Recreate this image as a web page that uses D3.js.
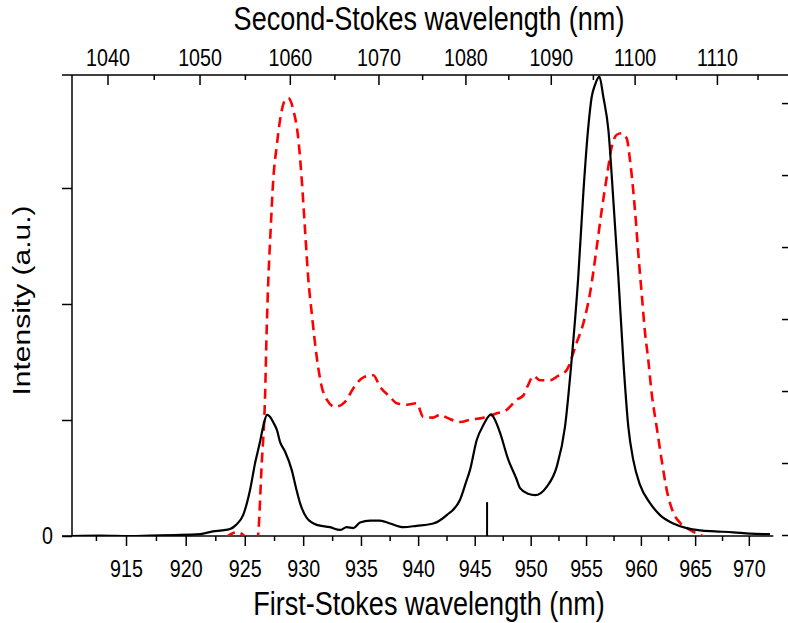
<!DOCTYPE html>
<html>
<head>
  <meta charset="utf-8" />
  <title>Raman spectra</title>
  <script src="https://cdnjs.cloudflare.com/ajax/libs/d3/7.8.5/d3.min.js"></script>
  <style>
    body { margin: 0; background: #fff; }
    svg text { font-family: "Liberation Sans", Arial, sans-serif; fill: #000; }
    .axis .tick line, .frame { stroke: #000; stroke-width: 1.5px; }
    .axis .tick text { font-size: 24px; }
    .title { font-size: 33px; }
    .ytitle { font-size: 30px; }
  </style>
</head>
<body>
  <div id="chart"></div>
  <script>
    // diamond Raman shift (cm^-1) between first and second Stokes
    var ramanShift = 1332;
    // the lettering of the figure is horizontally condensed
    var squeeze = 0.82;

    var firstStokesTicks = [915, 920, 925, 930, 935, 940, 945, 950, 955, 960, 965, 970];
    var firstStokesMinor = [912.5, 917.5, 922.5, 927.5, 932.5, 937.5, 942.5, 947.5, 952.5, 957.5, 962.5, 967.5];
    var secondStokesTicks = [1040, 1050, 1060, 1070, 1080, 1090, 1100, 1110];
    var secondStokesMinor = [1045, 1055, 1065, 1075, 1085, 1095, 1105, 1115];
    var leftTicks = [0, 0.25, 0.5, 0.75];
    var rightTicks = [0, 1, 2, 3, 4, 5, 6];

    // first-Stokes spectrum (black, left axis)
    var blackWl = [910.52, 912.84, 915.34, 917.00, 919.11, 921.22, 922.31, 923.07, 923.75, 924.26,
      924.86, 925.45, 925.88, 926.30, 926.60, 926.90, 927.15, 927.43, 927.75, 928.01,
      928.44, 929.02, 929.39, 929.73, 930.31, 931.17, 932.32, 933.18, 933.76, 934.34,
      934.92, 935.79, 936.66, 937.53, 938.70, 939.87, 941.33, 942.52, 943.70, 944.23,
      944.58, 945.18, 945.77, 946.45, 946.81, 947.26, 948.00, 948.69, 949.05, 949.76,
      950.39, 951.44, 952.34, 953.09, 953.69, 954.29, 954.75, 955.20, 955.51, 955.81,
      956.21, 956.57, 957.03, 957.48, 957.94, 958.39, 958.85, 959.30, 959.92, 960.84,
      961.76, 962.98, 964.22, 965.46, 966.86, 968.54, 970.12, 971.98];
    var blackInt = [0, 0.001, 0, 0.001, 0.002, 0.004, 0.010, 0.012, 0.015, 0.024,
      0.045, 0.099, 0.157, 0.203, 0.239, 0.261, 0.257, 0.245, 0.228, 0.203,
      0.182, 0.142, 0.103, 0.071, 0.039, 0.024, 0.019, 0.013, 0.019, 0.017,
      0.029, 0.033, 0.033, 0.027, 0.019, 0.022, 0.027, 0.045, 0.078, 0.116,
      0.142, 0.207, 0.239, 0.262, 0.250, 0.222, 0.164, 0.125, 0.103, 0.091,
      0.088, 0.106, 0.149, 0.235, 0.379, 0.558, 0.739, 0.881, 0.946, 0.972,
      0.990, 0.946, 0.875, 0.724, 0.558, 0.379, 0.235, 0.164, 0.110, 0.071,
      0.045, 0.027, 0.017, 0.012, 0.010, 0.008, 0.005, 0.004];

    // second-Stokes spectrum (red dashed, right axis), plotted at first-Stokes position
    var redWl = [923.41, 924.35, 925.28, 926.07, 926.45, 926.73, 926.87, 927.01, 927.21, 927.43,
      927.72, 928.01, 928.44, 928.72, 929.16, 929.59, 929.88, 930.16, 930.45, 930.74,
      931.17, 931.60, 932.04, 932.75, 933.62, 934.34, 935.21, 936.08, 936.66, 937.53,
      938.12, 938.99, 939.87, 940.45, 941.30, 941.93, 942.52, 943.70, 944.58, 945.77,
      946.96, 947.86, 948.75, 949.35, 949.76, 950.24, 950.84, 951.74, 952.46, 953.24,
      954.14, 954.75, 955.36, 955.97, 956.42, 956.88, 957.33, 957.79, 958.24, 958.70,
      959.00, 959.46, 959.76, 960.07, 960.38, 960.68, 960.99, 961.45, 961.91, 962.37,
      962.98, 963.61, 964.53, 965.46, 965.93];
    var redInt = [-0.03, 0.04, -0.04, -0.07, 1.00, 1.92, 2.85, 3.54, 4.24, 4.93,
      5.39, 5.76, 6.04, 6.07, 5.90, 5.49, 4.93, 4.24, 3.54, 3.08,
      2.47, 2.06, 1.88, 1.78, 1.85, 2.04, 2.19, 2.22, 2.06, 1.92,
      1.83, 1.81, 1.83, 1.64, 1.63, 1.67, 1.63, 1.57, 1.60, 1.63,
      1.69, 1.74, 1.88, 1.94, 2.08, 2.21, 2.15, 2.15, 2.21, 2.29,
      2.67, 2.94, 3.36, 4.00, 4.51, 4.97, 5.39, 5.56, 5.58, 5.51,
      5.21, 4.51, 3.92, 3.36, 2.81, 2.43, 1.97, 1.50, 1.04, 0.63,
      0.31, 0.17, 0.07, 0.00, -0.03];

    var markerWl = 946.1, markerHeight = 0.073;
    var firstStokesEnd = 972.3;

    var margin = { top: 75, right: -2, bottom: 87, left: 72 };
    var W = 788, H = 623;
    var w = W - margin.left - margin.right,
      h = H - margin.top - margin.bottom;

    var svg = d3.select('#chart').append('svg')
      .attr('width', W)
      .attr('height', H);

    // x is linear in wavenumber (cm^-1)
    var nu = d3.scaleLinear().domain([10982.7, 10268.3]).range([0, w]);
    var xFirst = wl => nu(1e7 / wl);
    var yLeft = d3.scaleLinear().domain([0, 0.9935]).range([h, 0]);
    var yRight = d3.scaleLinear().domain([0, 6.39]).range([h - 1, 0]);

    var g = svg.append('g').attr('transform', `translate(${margin.left},${margin.top})`);

    svg.append('defs').append('clipPath').attr('id', 'plotClip')
      .append('rect').attr('width', w).attr('height', h);

    function condense(sel) {
      sel.selectAll('.tick text').each(function () {
        var t = d3.select(this);
        var x = +t.attr('x') || 0;
        t.attr('x', x / squeeze).attr('transform', `scale(${squeeze},1)`);
      });
    }

    // frame lines
    g.append('line').attr('class', 'frame')
      .attr('x1', 0).attr('x2', 0).attr('y1', 0).attr('y2', h);
    g.append('line').attr('class', 'frame')
      .attr('x1', -10).attr('x2', xFirst(firstStokesEnd)).attr('y1', h).attr('y2', h);
    g.append('line').attr('class', 'frame')
      .attr('x1', -10).attr('x2', w).attr('y1', 0).attr('y2', 0);

    // bottom axis (first Stokes)
    g.append('g').attr('class', 'axis').attr('transform', `translate(0,${h})`)
      .call(d3.axisBottom(nu).tickValues(firstStokesTicks.map(d => 1e7 / d))
        .tickFormat(d => Math.round(1e7 / d)).tickSize(10).tickPadding(14))
      .call(a => a.select('.domain').remove())
      .call(condense);
    g.append('g').attr('class', 'axis').attr('transform', `translate(0,${h})`)
      .call(d3.axisBottom(nu).tickValues(firstStokesMinor.map(d => 1e7 / d))
        .tickFormat('').tickSize(5))
      .call(a => a.select('.domain').remove());

    // top axis (second Stokes), ticks inside
    var topNu = d => 1e7 / d + ramanShift;
    g.append('g').attr('class', 'axis')
      .call(d3.axisTop(nu).tickValues(secondStokesTicks.map(topNu))
        .tickFormat(d => Math.round(1e7 / (d - ramanShift))).tickSizeInner(-10).tickSizeOuter(0).tickPadding(9))
      .call(a => a.select('.domain').remove())
      .call(condense);
    g.append('g').attr('class', 'axis')
      .call(d3.axisTop(nu).tickValues(secondStokesMinor.map(topNu))
        .tickFormat('').tickSizeInner(-5).tickSizeOuter(0))
      .call(a => a.select('.domain').remove());

    // left axis
    g.append('g').attr('class', 'axis')
      .call(d3.axisLeft(yLeft).tickValues(leftTicks)
        .tickFormat(d => d === 0 ? '0' : '').tickSize(10).tickPadding(9))
      .call(a => a.select('.domain').remove())
      .call(condense);

    // right axis, ticks pointing in
    g.append('g').attr('class', 'axis').attr('transform', `translate(${w},0)`)
      .call(d3.axisRight(yRight).tickValues(rightTicks)
        .tickFormat('').tickSizeInner(-8).tickSizeOuter(0))
      .call(a => a.select('.domain').remove());

    var plot = g.append('g').attr('clip-path', 'url(#plotClip)');

    var redLine = d3.line()
      .x((d, i) => xFirst(redWl[i]))
      .y(d => yRight(d))
      .curve(d3.curveMonotoneX);
    plot.append('path').datum(redInt)
      .attr('d', redLine)
      .attr('fill', 'none')
      .attr('stroke', '#ff0000')
      .attr('stroke-width', 2.6)
      .attr('stroke-dasharray', '10,6');

    var blackLine = d3.line()
      .x((d, i) => xFirst(blackWl[i]))
      .y(d => yLeft(d))
      .curve(d3.curveMonotoneX);
    plot.append('path').datum(blackInt)
      .attr('d', blackLine)
      .attr('fill', 'none')
      .attr('stroke', '#000')
      .attr('stroke-width', 2.2);

    // marker
    g.append('line')
      .attr('x1', xFirst(markerWl)).attr('x2', xFirst(markerWl))
      .attr('y1', yLeft(0)).attr('y2', yLeft(markerHeight))
      .attr('stroke', '#000').attr('stroke-width', 2);

    // axis titles
    g.append('text').attr('class', 'title')
      .attr('transform', `translate(${w / 2 - 2},${h + 79}) scale(${squeeze},1)`)
      .attr('text-anchor', 'middle')
      .text('First-Stokes wavelength (nm)');
    g.append('text').attr('class', 'title')
      .attr('transform', `translate(${w / 2 - 2},-45) scale(${squeeze},1)`)
      .attr('text-anchor', 'middle')
      .text('Second-Stokes wavelength (nm)');
    g.append('text').attr('class', 'ytitle')
      .attr('transform', `translate(-42,${h / 2 - 5}) rotate(-90) scale(1,${squeeze})`)
      .attr('text-anchor', 'middle')
      .text('Intensity (a.u.)');
  </script>
</body>
</html>
